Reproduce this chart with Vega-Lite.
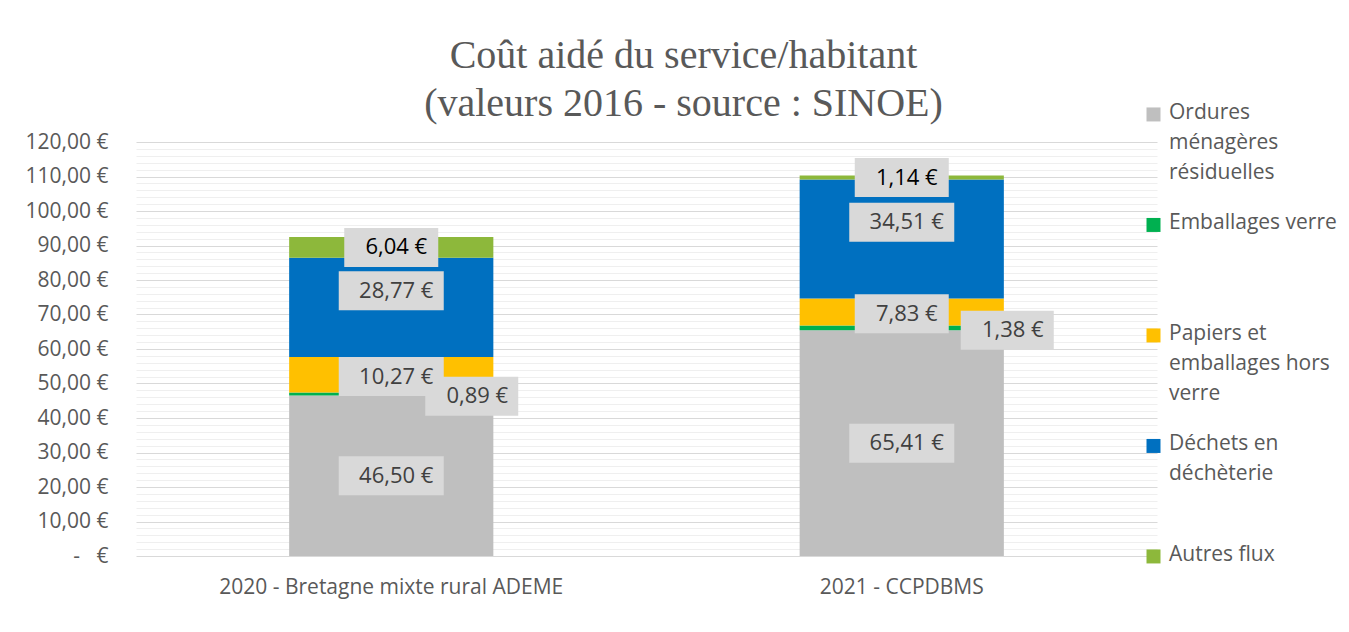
{
  "$schema": "https://vega.github.io/schema/vega-lite/v6.json",
  "width": 1021,
  "height": 414,
  "autosize": "none",
  "padding": {"left": 136, "top": 142, "right": 192, "bottom": 76},
  "background": "white",
  "title": {
    "text": ["Coût aidé du service/habitant", "(valeurs 2016 - source : SINOE)"],
    "font": "Liberation Serif",
    "fontSize": 40,
    "fontWeight": "normal",
    "color": "#595959",
    "lineHeight": 48,
    "anchor": "middle",
    "dx": 37,
    "offset": -33
  },
  "config": {
    "view": {"stroke": null},
    "style": {"guide-label": {"lineHeight": 30}}
  },
  "data": {
    "values": [
      {"annee": "2020 - Bretagne mixte rural ADEME", "poste": "Ordures ménagères résiduelles", "ordre": 1, "valeur": 46.50},
      {"annee": "2020 - Bretagne mixte rural ADEME", "poste": "Emballages verre", "ordre": 2, "valeur": 0.89},
      {"annee": "2020 - Bretagne mixte rural ADEME", "poste": "Papiers et emballages hors verre", "ordre": 3, "valeur": 10.27},
      {"annee": "2020 - Bretagne mixte rural ADEME", "poste": "Déchets en déchèterie", "ordre": 4, "valeur": 28.77},
      {"annee": "2020 - Bretagne mixte rural ADEME", "poste": "Autres flux", "ordre": 5, "valeur": 6.04},
      {"annee": "2021 - CCPDBMS", "poste": "Ordures ménagères résiduelles", "ordre": 1, "valeur": 65.41},
      {"annee": "2021 - CCPDBMS", "poste": "Emballages verre", "ordre": 2, "valeur": 1.38},
      {"annee": "2021 - CCPDBMS", "poste": "Papiers et emballages hors verre", "ordre": 3, "valeur": 7.83},
      {"annee": "2021 - CCPDBMS", "poste": "Déchets en déchèterie", "ordre": 4, "valeur": 34.51},
      {"annee": "2021 - CCPDBMS", "poste": "Autres flux", "ordre": 5, "valeur": 1.14}
    ]
  },
  "transform": [
    {"stack": "valeur", "groupby": ["annee"], "sort": [{"field": "ordre", "order": "ascending"}], "as": ["y0", "y1"]},
    {"calculate": "(datum.y0 + datum.y1) / 2 + (datum.poste === 'Déchets en déchèterie' ? 4.85 : datum.poste === 'Emballages verre' ? -0.65 : datum.poste === 'Papiers et emballages hors verre' ? -0.5 : 0)", "as": "ly"},
    {"calculate": "replace(format(datum.valeur, '.2f'), '.', ',') + ' €'", "as": "etiquette"}
  ],
  "layer": [
    {
      "mark": {"type": "bar"},
      "encoding": {
        "x": {
          "field": "annee", "type": "nominal", "sort": null, "title": null,
          "scale": {"paddingInner": 0.6, "paddingOuter": 0.3},
          "axis": {"labelAngle": 0, "ticks": false, "domain": false, "grid": false, "labelFont": "Open Sans", "labelFontSize": 21, "labelColor": "#595959", "labelPadding": 20, "labelLimit": 600}
        },
        "y": {
          "field": "y0", "type": "quantitative", "title": null,
          "scale": {"domain": [0, 120], "nice": false},
          "axis": {
            "values": [0,2,4,6,8,10,12,14,16,18,20,22,24,26,28,30,32,34,36,38,40,42,44,46,48,50,52,54,56,58,60,62,64,66,68,70,72,74,76,78,80,82,84,86,88,90,92,94,96,98,100,102,104,106,108,110,112,114,116,118,120],
            "tickCount": 100,
            "grid": true,
            "gridColor": {"condition": {"test": "datum.value % 10 === 0", "value": "#D9D9D9"}, "value": "#EFEFEF"},
            "gridWidth": 1,
            "ticks": false,
            "domain": false,
            "labelExpr": "datum.value % 10 !== 0 ? '' : (datum.value === 0 ? '-\u00a0\u00a0\u00a0€' : replace(format(datum.value, '.2f'), '.', ',') + ' €')",
            "labelFont": "Open Sans",
            "labelFontSize": 21,
            "labelColor": "#595959",
            "labelPadding": 28,
            "labelOverlap": false,
            "labelFlush": false,
            "labelBound": false
          }
        },
        "y2": {"field": "y1"},
        "color": {
          "field": "poste", "type": "nominal",
          "scale": {
            "domain": ["Ordures ménagères résiduelles", "Emballages verre", "Papiers et emballages hors verre", "Déchets en déchèterie", "Autres flux"],
            "range": ["#BFBFBF", "#00B050", "#FFC000", "#0070C0", "#8DB83B"]
          },
          "legend": {
            "orient": "none",
            "legendX": 1007,
            "legendY": -51,
            "title": null,
            "symbolType": "M-1,0.85H1V2.85H-1Z",
            "symbolSize": 196,
            "symbolStrokeWidth": 0,
            "labelFont": "Open Sans",
            "labelFontSize": 21,
            "labelColor": "#595959",
            "labelLimit": 400,
            "labelOffset": 5,
            "rowPadding": 18.5,
            "labelBaseline": "top",
            "labelExpr": "datum.label === 'Ordures ménagères résiduelles' ? ['Ordures','ménagères','résiduelles'] : datum.label === 'Emballages verre' ? ['Emballages verre','',''] : datum.label === 'Papiers et emballages hors verre' ? ['Papiers et','emballages hors','verre'] : datum.label === 'Déchets en déchèterie' ? ['Déchets en','déchèterie',''] : ['Autres flux','','']"
          }
        }
      }
    },
    {
      "mark": {"type": "point", "filled": true, "opacity": 1, "size": 10000, "strokeWidth": 0, "color": "#D9D9D9"},
      "encoding": {
        "x": {"field": "annee", "type": "nominal", "sort": null, "title": null},
        "y": {"field": "ly", "type": "quantitative", "title": null},
        "shape": {
          "condition": [
            {"test": "datum.poste === 'Emballages verre' && datum.annee === '2020 - Bretagne mixte rural ADEME'", "value": "M0.68,-0.39H2.54V0.39H0.68Z"},
            {"test": "datum.poste === 'Emballages verre'", "value": "M1.18,-0.39H3.04V0.39H1.18Z"},
            {"test": "datum.valeur >= 10", "value": "M-1.05,-0.39H1.05V0.39H-1.05Z"}
          ],
          "value": "M-0.94,-0.39H0.94V0.39H-0.94Z"
        }
      }
    },
    {
      "transform": [{"filter": "datum.poste !== 'Emballages verre'"}],
      "mark": {"type": "text", "font": "Open Sans", "fontSize": 22, "dx": 5, "baseline": "middle"},
      "encoding": {
        "x": {"field": "annee", "type": "nominal", "sort": null, "title": null},
        "y": {"field": "ly", "type": "quantitative", "title": null},
        "text": {"field": "etiquette"},
        "color": {"condition": {"test": "datum.poste === 'Autres flux'", "value": "#000000"}, "value": "#404040"}
      }
    },
    {
      "transform": [{"filter": "datum.poste === 'Emballages verre' && datum.annee === '2020 - Bretagne mixte rural ADEME'"}],
      "mark": {"type": "text", "font": "Open Sans", "fontSize": 22, "dx": 86, "baseline": "middle", "color": "#404040"},
      "encoding": {
        "x": {"field": "annee", "type": "nominal", "sort": null, "title": null},
        "y": {"field": "ly", "type": "quantitative", "title": null},
        "text": {"field": "etiquette"}
      }
    },
    {
      "transform": [{"filter": "datum.poste === 'Emballages verre' && datum.annee === '2021 - CCPDBMS'"}],
      "mark": {"type": "text", "font": "Open Sans", "fontSize": 22, "dx": 111, "baseline": "middle", "color": "#404040"},
      "encoding": {
        "x": {"field": "annee", "type": "nominal", "sort": null, "title": null},
        "y": {"field": "ly", "type": "quantitative", "title": null},
        "text": {"field": "etiquette"}
      }
    }
  ]
}
